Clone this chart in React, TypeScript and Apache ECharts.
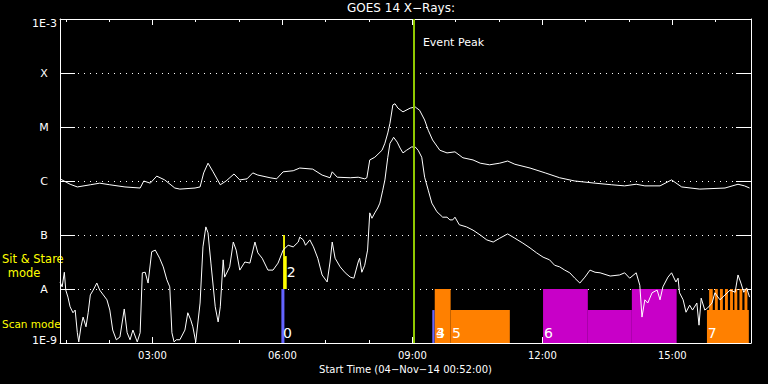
import React, { useEffect, useRef } from "react";
import * as echarts from "echarts";

// Time in minutes after 00:00 (04-Nov-14), flux as log10(W/m^2)
const START_MIN = 52;
const END_MIN = 1009;

const longChannel: [number, number][] = [
  [52, -5.96], [66, -6.06], [76, -6.11], [94, -6.07], [107, -6.04], [121, -6.07], [142, -6.11], [163, -6.13],
  [168, -6.0], [177, -6.04], [186, -5.91], [197, -5.98], [211, -6.13], [218, -6.15], [239, -6.13], [246, -6.11],
  [251, -5.85], [257, -5.67], [264, -5.83], [274, -6.07], [282, -6.0], [293, -5.87], [301, -5.98], [311, -5.96],
  [319, -5.85], [326, -5.89], [343, -5.94], [352, -5.96], [361, -5.83], [375, -5.81], [384, -5.76], [402, -5.78],
  [415, -5.89], [426, -5.94], [429, -5.83], [436, -5.93], [454, -5.94], [465, -5.93], [474, -5.96], [477, -5.94],
  [481, -5.61], [488, -5.56], [498, -5.43], [502, -5.3], [506, -5.11], [509, -4.93], [513, -4.59], [516, -4.57],
  [520, -4.65], [527, -4.72], [537, -4.65], [544, -4.63], [550, -4.69], [557, -4.87], [562, -5.06], [568, -5.24],
  [578, -5.43], [588, -5.48], [599, -5.46], [610, -5.57], [624, -5.61], [634, -5.67], [647, -5.7], [661, -5.67],
  [672, -5.63], [682, -5.69], [703, -5.76], [724, -5.85], [744, -5.94], [765, -6.0], [793, -6.04], [816, -6.07],
  [834, -6.09], [850, -6.06], [862, -6.09], [883, -6.09], [899, -5.98], [913, -6.11], [938, -6.15], [973, -6.13],
  [991, -6.06], [1000, -6.09], [1007, -6.13],
];

const shortChannel: [number, number][] = [
  [52, -7.87], [55, -7.96], [58, -7.69], [60, -8.02], [63, -8.15], [66, -8.33], [70, -8.44], [73, -8.39],
  [76, -8.81], [78, -8.98], [81, -8.7], [84, -8.52], [88, -8.7], [91, -8.44], [94, -8.11], [98, -8.02],
  [103, -7.89], [107, -8.02], [112, -8.11], [117, -8.2], [121, -8.39], [125, -8.76], [130, -8.94], [135, -8.89],
  [141, -8.37], [145, -8.81], [149, -8.94], [153, -8.76], [159, -8.98], [163, -8.81], [166, -7.7], [170, -7.69],
  [174, -7.89], [179, -7.31], [184, -7.28], [190, -7.43], [195, -7.59], [200, -7.83], [204, -7.96], [207, -8.81],
  [210, -8.98], [213, -8.94], [218, -8.94], [225, -8.76], [229, -8.44], [233, -8.57], [236, -8.7], [240, -8.98],
  [246, -8.26], [250, -7.22], [254, -6.85], [257, -6.96], [261, -7.52], [267, -8.33], [271, -8.61], [274, -8.33],
  [278, -7.46], [280, -7.78], [287, -7.59], [292, -7.13], [296, -7.28], [301, -7.65], [308, -7.5], [315, -7.52],
  [322, -7.13], [326, -7.33], [332, -7.43], [340, -7.65], [347, -7.65], [354, -7.52], [361, -7.28], [368, -7.19],
  [375, -7.22], [382, -7.13], [384, -7.04], [389, -7.09], [392, -7.19], [398, -7.09], [403, -7.22], [409, -7.43],
  [415, -7.74], [422, -7.87], [426, -7.5], [429, -7.13], [433, -7.43], [440, -7.59], [447, -7.7], [454, -7.78],
  [459, -7.8], [465, -7.5], [467, -7.43], [470, -7.69], [474, -7.56], [478, -7.28], [481, -6.59], [484, -6.69],
  [488, -6.59], [492, -6.5], [495, -6.41], [499, -6.17], [502, -5.98], [506, -5.56], [509, -5.3], [512, -5.24],
  [514, -5.19], [519, -5.28], [523, -5.39], [527, -5.48], [532, -5.43], [539, -5.37], [544, -5.37], [548, -5.43],
  [553, -5.56], [557, -5.93], [562, -6.17], [567, -6.41], [574, -6.57], [582, -6.67], [588, -6.67], [592, -6.72],
  [596, -6.72], [599, -6.67], [605, -6.81], [615, -6.85], [624, -6.91], [634, -7.0], [643, -7.09], [652, -7.13],
  [661, -7.06], [672, -6.98], [682, -7.06], [693, -7.15], [703, -7.24], [712, -7.33], [721, -7.41], [730, -7.46],
  [737, -7.56], [744, -7.59], [751, -7.65], [758, -7.7], [765, -7.8], [772, -7.89], [779, -7.78], [786, -7.65],
  [793, -7.69], [800, -7.7], [814, -7.76], [827, -7.74], [834, -7.7], [841, -7.8], [850, -7.7], [855, -7.93],
  [858, -8.52], [862, -8.2], [866, -8.26], [872, -8.07], [879, -8.02], [883, -8.2], [887, -7.96], [894, -7.78],
  [899, -7.7], [905, -7.87], [908, -7.8], [910, -8.07], [915, -8.2], [919, -8.43], [924, -8.3], [928, -8.39],
  [934, -8.26], [937, -8.67], [940, -8.17], [945, -8.39], [949, -8.35], [955, -8.26], [959, -8.07], [966, -8.2],
  [973, -8.11], [980, -8.02], [987, -8.06], [991, -7.74], [995, -7.89], [999, -8.06], [1003, -7.98], [1007, -8.15],
];

// Observing-mode blocks: [start min, end min, top log10, bottom log10, mode]
const modeBlocks: [number, number, number, number, number][] = [
  [358.6, 362.8, -8, -9, 0],
  [361, 363.5, -7, -7.39, 2],
  [361, 366, -7.39, -8, 2],
  [567.6, 570.8, -8.39, -9, 3],
  [571, 593, -8, -9, 4],
  [593, 675, -8.39, -9, 5],
  [721, 783, -8, -9, 6],
  [783, 844, -8.39, -9, 6],
  [844, 906, -8, -9, 6],
  [948, 1006, -8.39, -9, 7],
  [951, 956, -8, -8.39, 7],
  [959, 963, -8, -8.39, 7],
  [966, 970, -8, -8.39, 7],
  [973, 977, -8, -8.39, 7],
  [980, 984, -8, -8.39, 7],
  [986, 990, -8, -8.39, 7],
  [993, 997, -8, -8.39, 7],
  [1000, 1004, -8, -8.39, 7],
];

// Annotation texts anchored at [time min, log10 level]
const annotations: { t: number; v: number; text: string }[] = [
  { t: 361, v: -8.815, text: "0" },
  { t: 366, v: -7.685, text: "2" },
  { t: 572.6, v: -8.815, text: "3" },
  { t: 572.6, v: -8.815, text: "4" },
  { t: 594.8, v: -8.815, text: "5" },
  { t: 722.2, v: -8.815, text: "6" },
  { t: 949.2, v: -8.815, text: "7" },
];
const eventPeakMin = 542.5;
const eventLabel = { t: 554.6, v: -3.444, text: "Event Peak" };

const yTickLabels = ["1E-9", "A", "B", "C", "M", "X", "1E-3"];
const xLabelMinutes = [180, 360, 540, 720, 900];
const xMinorMinutes = [60, 120, 240, 300, 420, 480, 600, 660, 780, 840, 960];

const modeColor: Record<number, string> = {
  0: "#6464ff",
  2: "#ffff00",
  3: "#6464ff",
  4: "#ff8000",
  5: "#ff8000",
  6: "#c800c8",
  7: "#ff8000",
};

const FONT = "DejaVu Sans";
const WHITE = "#ffffff";

const fmtTime = (v: number) => {
  const h = Math.floor(v / 60);
  const m = Math.round(v - h * 60);
  return `${String(h).padStart(2, "0")}:${String(m).padStart(2, "0")}`;
};

export default function App() {
  const ref = useRef<HTMLDivElement>(null);
  useEffect(() => {
    if (!ref.current) return;
    const chart = echarts.init(ref.current, undefined, { renderer: "svg" });

    const xBase = {
      type: "value",
      min: START_MIN,
      max: END_MIN,
      splitLine: { show: false },
    };

    const allLabels = [...annotations, eventLabel];

    const option: any = {
      animation: false,
      backgroundColor: "#000000",
      title: {
        text: "GOES 14 X\u2212Rays:",
        left: 347,
        top: 2,
        padding: 0,
        textStyle: { color: WHITE, fontSize: 12, fontWeight: "normal", fontFamily: FONT },
      },
      grid: { left: 60, top: 19, right: 17, bottom: 41, containLabel: false },
      xAxis: [
        {
          ...xBase,
          position: "bottom",
          name: "Start Time (04\u2212Nov\u221214 00:52:00)",
          nameLocation: "middle",
          nameGap: 19,
          nameTextStyle: { color: WHITE, fontSize: 10, fontFamily: FONT },
          axisLine: { show: true, lineStyle: { color: WHITE, width: 1 } },
          axisTick: { show: true, inside: true, length: 6, customValues: xLabelMinutes, lineStyle: { color: WHITE } },
          axisLabel: {
            show: true,
            customValues: xLabelMinutes,
            formatter: (v: number) => fmtTime(v),
            color: WHITE,
            fontSize: 10,
            fontFamily: FONT,
            margin: 7,
          },
        },
        {
          ...xBase,
          position: "bottom",
          axisLine: { show: false },
          axisTick: { show: true, inside: true, length: 3, customValues: xMinorMinutes, lineStyle: { color: WHITE } },
          axisLabel: { show: false },
        },
        {
          ...xBase,
          position: "top",
          axisLine: { show: true, lineStyle: { color: WHITE, width: 1 } },
          axisTick: { show: true, inside: true, length: 6, customValues: xLabelMinutes, lineStyle: { color: WHITE } },
          axisLabel: { show: false },
        },
        {
          ...xBase,
          position: "top",
          axisLine: { show: false },
          axisTick: { show: true, inside: true, length: 3, customValues: xMinorMinutes, lineStyle: { color: WHITE } },
          axisLabel: { show: false },
        },
      ],
      yAxis: [
        {
          type: "value",
          position: "left",
          min: -9,
          max: -3,
          interval: 1,
          axisLine: { show: true, lineStyle: { color: WHITE, width: 1 } },
          axisTick: { show: true, inside: true, length: 15, lineStyle: { color: WHITE } },
          splitLine: { show: true, lineStyle: { color: WHITE, type: [1, 5], width: 1 } },
          axisLabel: {
            show: true,
            margin: 3,
            color: WHITE,
            fontSize: 11,
            fontFamily: FONT,
            formatter: (v: number) => {
              const i = Math.round(v + 9);
              const lab = yTickLabels[i];
              if (i === 6) return `{top|${lab}}`;
              if (i === 0) return `{bot|${lab}}`;
              return `{c|${lab}}`;
            },
            rich: {
              c: { width: 26, align: "center", color: WHITE, fontSize: 11, fontFamily: FONT },
              top: { padding: [8, 0, 0, 0], color: WHITE, fontSize: 11, fontFamily: FONT },
              bot: { padding: [0, 0, 6, 0], color: WHITE, fontSize: 11, fontFamily: FONT },
            },
          },
        },
        {
          type: "value",
          position: "right",
          min: -9,
          max: -3,
          interval: 1,
          axisLine: { show: true, lineStyle: { color: WHITE, width: 1 } },
          axisTick: { show: true, inside: true, length: 15, lineStyle: { color: WHITE } },
          splitLine: { show: false },
          axisLabel: { show: false },
        },
      ],
      graphic: [
        {
          type: "text",
          x: 2,
          y: 259,
          style: { text: "Sit & Stare", fill: "#ffff00", fontSize: 11.5, fontFamily: FONT, align: "left", verticalAlign: "middle" },
        },
        {
          type: "text",
          x: 24,
          y: 273,
          style: { text: "mode", fill: "#ffff00", fontSize: 11.5, fontFamily: FONT, align: "center", verticalAlign: "middle" },
        },
        {
          type: "text",
          x: 2,
          y: 324,
          style: { text: "Scan mode", fill: "#ffff00", fontSize: 10.5, fontFamily: FONT, align: "left", verticalAlign: "middle" },
        },
      ],
      series: [
        {
          type: "custom",
          name: "Observing modes",
          xAxisIndex: 0,
          yAxisIndex: 0,
          z: 1,
          silent: true,
          data: modeBlocks,
          encode: { x: [0, 1], y: [2, 3] },
          renderItem: (params: any, api: any) => {
            const s = api.value(0);
            const e = api.value(1);
            const top = api.value(2);
            const bot = api.value(3);
            const mode = api.value(4);
            const p1 = api.coord([s, top]);
            const p2 = api.coord([e, bot]);
            return {
              type: "rect",
              shape: { x: p1[0], y: p1[1], width: p2[0] - p1[0], height: p2[1] - p1[1] },
              style: { fill: modeColor[mode] },
            };
          },
        },
        {
          type: "line",
          name: "GOES 14 1-8 \u00c5",
          xAxisIndex: 0,
          yAxisIndex: 0,
          z: 3,
          data: longChannel,
          showSymbol: false,
          symbol: "none",
          lineStyle: { color: WHITE, width: 1 },
          markLine: {
            silent: true,
            symbol: ["none", "none"],
            label: { show: false },
            lineStyle: { color: "#8fc800", width: 2, type: "solid" },
            data: [{ xAxis: eventPeakMin }],
          },
        },
        {
          type: "line",
          name: "GOES 14 0.5-4 \u00c5",
          xAxisIndex: 0,
          yAxisIndex: 0,
          z: 3,
          data: shortChannel,
          showSymbol: false,
          symbol: "none",
          lineStyle: { color: WHITE, width: 1 },
        },
        {
          type: "custom",
          name: "Labels",
          xAxisIndex: 0,
          yAxisIndex: 0,
          z: 5,
          silent: true,
          clip: false,
          data: allLabels.map((a) => [a.t, a.v]),
          renderItem: (params: any, api: any) => {
            const a = allLabels[params.dataIndex];
            const p = api.coord([api.value(0), api.value(1)]);
            const isEvent = a === eventLabel;
            return {
              type: "text",
              x: p[0],
              y: p[1],
              style: {
                text: a.text,
                fill: WHITE,
                fontSize: isEvent ? 11 : 14,
                fontFamily: FONT,
                align: "left",
                verticalAlign: "middle",
              },
            };
          },
        },
      ],
    };
    chart.setOption(option);
    return () => chart.dispose();
  }, []);
  return (
    <div
      ref={ref}
      style={{ position: "fixed", left: 0, top: 0, width: 768, height: 384, background: "#000" }}
    />
  );
}
